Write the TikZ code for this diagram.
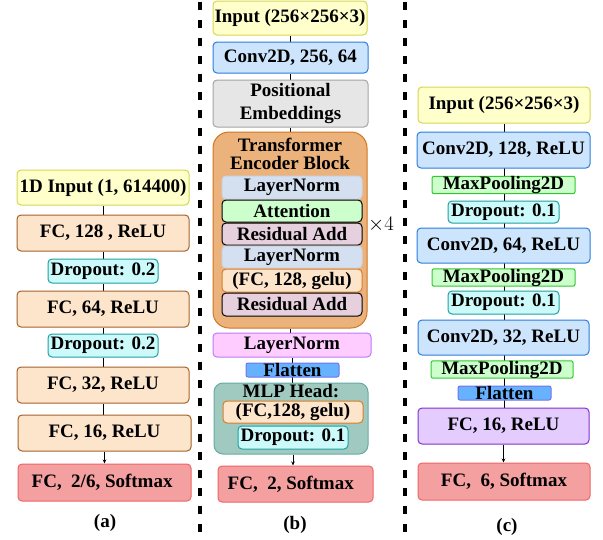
\documentclass[tikz,border=0pt]{standalone}
\usepackage{fontspec}
\setmainfont{Liberation Serif}
\usetikzlibrary{arrows.meta,backgrounds}
\definecolor{yelF}{RGB}{255,255,204}
\definecolor{yelD}{RGB}{214,214,80}
\definecolor{peaF}{RGB}{253,229,204}
\definecolor{peaD}{RGB}{165,96,42}
\definecolor{peaO}{RGB}{215,125,40}
\definecolor{cyaF}{RGB}{204,250,250}
\definecolor{cyaD}{RGB}{30,160,160}
\definecolor{redF}{RGB}{244,160,160}
\definecolor{redD}{RGB}{240,100,100}
\definecolor{bluF}{RGB}{204,228,252}
\definecolor{bluD}{RGB}{45,125,220}
\definecolor{gryF}{RGB}{230,230,230}
\definecolor{gryD}{RGB}{165,165,165}
\definecolor{oraF}{RGB}{235,178,124}
\definecolor{oraD}{RGB}{210,118,30}
\definecolor{lnF}{RGB}{212,224,240}
\definecolor{lnD}{RGB}{200,212,232}
\definecolor{grnF}{RGB}{204,255,204}
\definecolor{grnD}{RGB}{50,200,50}
\definecolor{resF}{RGB}{230,208,222}
\definecolor{pnkF}{RGB}{255,204,255}
\definecolor{pnkD}{RGB}{190,120,250}
\definecolor{flaF}{RGB}{102,178,255}
\definecolor{flaD}{RGB}{115,115,235}
\definecolor{mlpF}{RGB}{160,201,192}
\definecolor{mlpD}{RGB}{100,172,164}
\definecolor{purF}{RGB}{229,204,255}
\definecolor{purD}{RGB}{127,50,205}
\tikzset{
  box/.style={rectangle, rounded corners=4pt, line width=1pt, inner sep=0pt,
    font=\fontsize{19}{20}\selectfont\bfseries, align=center},
  yelbox/.style={box, fill=yelF, draw=yelD},
  peabox/.style={box, fill=peaF, draw=peaD},
  cyabox/.style={box, fill=cyaF, draw=cyaD},
  redbox/.style={box, fill=redF, draw=redD},
  blubox/.style={box, fill=bluF, draw=bluD},
  grybox/.style={box, fill=gryF, draw=gryD},
  lnbox/.style={box, fill=lnF, draw=lnD},
  attbox/.style={box, fill=grnF, draw=black},
  resbox/.style={box, fill=resF, draw=black},
  gelbox/.style={box, fill=peaF, draw=peaO},
  pnkbox/.style={box, fill=pnkF, draw=pnkD},
  flabox/.style={box, rounded corners=2pt, fill=flaF, draw=flaD},
  mpbox/.style={box, rounded corners=2pt, fill=grnF, draw=grnD},
  purbox/.style={box, fill=purF, draw=purD},
  conn/.style={line width=0.8pt, black},
  arr/.style={conn, -{Stealth[length=4pt,width=3.5pt]}},
  lbl/.style={font=\fontsize{19}{20}\selectfont\bfseries, inner sep=0pt},
  sep/.style={line width=3.5pt, dash pattern=on 8pt off 10pt}
}
\begin{document}
\begin{tikzpicture}[x=1pt,y=-1pt]
\useasboundingbox (0,0) rectangle (603,539);
% separators
\draw[sep] (200,2) -- (200,539);
\draw[sep] (405,2) -- (405,539);

% ---------- column (a)
\node[yelbox, minimum width=172pt, minimum height=35pt] (a1) at (103,187.5) {1D Input (1, 614400)};
\node[peabox, minimum width=172pt, minimum height=36pt] (a2) at (103,233) {FC, 128 , ReLU};
\node[cyabox, minimum width=110pt, minimum height=24pt] (a3) at (103,271) {Dropout: 0.2};
\node[peabox, minimum width=172pt, minimum height=36pt] (a4) at (103,309) {FC, 64, ReLU};
\node[cyabox, minimum width=110pt, minimum height=23pt] (a5) at (103,345.5) {Dropout: 0.2};
\node[peabox, minimum width=172pt, minimum height=36pt] (a6) at (103,385) {FC, 32, ReLU};
\node[peabox, minimum width=173pt, minimum height=36pt] (a7) at (104.5,433) {FC, 16, ReLU};
\node[redbox, minimum width=173pt, minimum height=37pt] (a8) at (104.5,482.5) {FC,\ \ 2/6, Softmax\ };
\node[lbl] (la) at (105,523) {(a)};
\begin{scope}[on background layer]
\draw[conn] (a1.south) -- (a2.north);
\draw[conn] (a2.south) -- (a3.north);
\draw[conn] (a3.south) -- (a4.north);
\draw[conn] (a4.south) -- (a5.north);
\draw[conn] (a5.south) -- (a6.north);
\draw[conn] (a6.south) -- (a6.south |- a7.north);
\end{scope}
\draw[arr] (a7.south) -- (a7.south |- a8.north);

% ---------- column (b)
\node[yelbox, minimum width=154pt, minimum height=34pt] (b1) at (290,18) {Input (256×256×3)};
\node[blubox, minimum width=155pt, minimum height=31pt] (b2) at (290.5,57.5) {Conv2D, 256, 64};
\node[grybox, minimum width=155pt, minimum height=47pt, font=\fontsize{19}{23}\selectfont\bfseries] (b3) at (290.5,103.5) {Positional\\Embeddings};
\node[box, rounded corners=16pt, fill=oraF, draw=oraD, minimum width=154pt, minimum height=196pt] (b4) at (290,230) {};
\node[lbl, align=center, font=\fontsize{19}{18}\selectfont\bfseries] (b4t) at (290,153.5) {Transformer\\Encoder Block};
\node[lnbox, minimum width=140pt, minimum height=23pt] (b5) at (292,187.5) {LayerNorm};
\node[attbox, minimum width=140pt, minimum height=22pt] (b6) at (292,211) {Attention};
\node[resbox, minimum width=140pt, minimum height=22pt] (b7) at (292,234) {Residual Add};
\node[lnbox, minimum width=140pt, minimum height=22pt] (b8) at (292,257) {LayerNorm};
\node[gelbox, minimum width=140pt, minimum height=23pt] (b9) at (292,280.5) {(FC, 128, gelu)};
\node[resbox, minimum width=140pt, minimum height=23pt] (b10) at (292,304.5) {Residual Add};
\node[inner sep=0pt, font=\fontsize{21}{23}\selectfont] (x4) at (381,225) {$\times 4$};
\node[pnkbox, minimum width=158pt, minimum height=24pt] (b11) at (292,345) {LayerNorm};
\node[flabox, minimum width=93pt, minimum height=14pt] (b12) at (292.5,370) {Flatten};
\node[box, rounded corners=9pt, fill=mlpF, draw=mlpD, minimum width=154pt, minimum height=71pt] (b13) at (291,418.5) {};
\node[lbl] (b13t) at (291,391) {MLP Head:};
\node[gelbox, minimum width=140pt, minimum height=22pt] (b14) at (293,412) {(FC,128, gelu)};
\node[cyabox, minimum width=110pt, minimum height=23pt] (b15) at (293,437.5) {Dropout: 0.1};
\node[redbox, minimum width=155pt, minimum height=36pt] (b16) at (295.5,484) {FC,\ \ 2, Softmax\ \ };
\node[lbl] (lb) at (295,525) {(b)};
\begin{scope}[on background layer]
\draw[conn] (b1.south) -- (b1.south |- b2.north);
\draw[conn] (b2.south) -- (b2.south |- b3.north);
\draw[conn] (b3.south) -- (b3.south |- b4.north);
\draw[conn] (b4.south) -- (b4.south |- b11.north);
\draw[conn] (b11.south) -- (b11.south |- b13.north);
\end{scope}
\draw[arr] (b13.south) ++(2,0) coordinate (bp) -- (bp |- b16.north);

% ---------- column (c)
\node[yelbox, minimum width=172pt, minimum height=36pt] (c1) at (504,105) {Input (256×256×3)};
\node[blubox, minimum width=173pt, minimum height=36pt] (c2) at (503.5,150) {Conv2D, 128, ReLU};
\node[mpbox, minimum width=143pt, minimum height=16pt] (c3) at (503.5,185) {MaxPooling2D};
\node[cyabox, minimum width=111pt, minimum height=22pt] (c4) at (503.5,212) {Dropout: 0.1};
\node[blubox, minimum width=173pt, minimum height=35pt] (c5) at (503.5,245.5) {Conv2D, 64, ReLU};
\node[mpbox, minimum width=143pt, minimum height=15pt] (c6) at (503.5,277.5) {MaxPooling2D};
\node[cyabox, minimum width=111pt, minimum height=23pt] (c7) at (503.5,302.5) {Dropout: 0.1};
\node[blubox, minimum width=171pt, minimum height=35pt] (c8) at (503.5,337.5) {Conv2D, 32, ReLU};
\node[mpbox, minimum width=142pt, minimum height=15pt] (c9) at (502,369.5) {MaxPooling2D};
\node[flabox, minimum width=93pt, minimum height=14pt] (c10) at (504.5,393) {Flatten};
\node[purbox, minimum width=171pt, minimum height=36pt] (c11) at (503.5,426) {FC, 16, ReLU};
\node[redbox, minimum width=172pt, minimum height=37pt] (c12) at (504,481.5) {FC,\ \ 6, Softmax};
\node[lbl] (lc) at (507,527) {(c)};
\begin{scope}[on background layer]
\draw[conn] (c1.south) -- (c1.south |- c11.north);
\end{scope}
\draw[arr] (c11.south) -- (c11.south |- c12.north);
\end{tikzpicture}
\end{document}
